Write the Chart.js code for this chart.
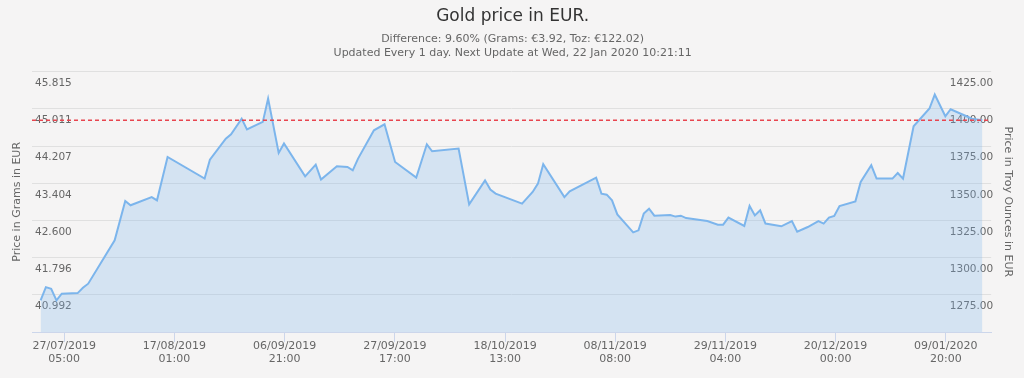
<!DOCTYPE html>
<html>
<head>
<meta charset="utf-8">
<script src="https://cdn.jsdelivr.net/npm/chart.js@4.4.0/dist/chart.umd.min.js"></script>
<style>
  html, body { margin: 0; padding: 0; background: #f5f4f4; }
  #wrap { width: 1024px; height: 378px; position: relative; }
</style>
</head>
<body>
<div id="wrap"><canvas id="goldChart"></canvas></div>
<script>
/* Closing dates (each at 18:00 UTC) and gold price per troy ounce in EUR */
const dates = [
  "2019-07-22", "2019-07-23", "2019-07-24", "2019-07-25", "2019-07-26", "2019-07-29", "2019-07-30", "2019-07-31",
  "2019-08-05", "2019-08-07", "2019-08-08", "2019-08-12", "2019-08-13", "2019-08-15", "2019-08-22", "2019-08-23",
  "2019-08-26", "2019-08-27", "2019-08-29", "2019-08-30",
  "2019-09-02", "2019-09-03", "2019-09-05", "2019-09-06", "2019-09-10", "2019-09-12", "2019-09-13", "2019-09-16",
  "2019-09-18", "2019-09-19", "2019-09-20", "2019-09-23", "2019-09-25", "2019-09-27",
  "2019-10-01", "2019-10-03", "2019-10-04", "2019-10-09", "2019-10-11", "2019-10-14", "2019-10-15", "2019-10-16",
  "2019-10-21", "2019-10-23", "2019-10-24", "2019-10-25", "2019-10-29", "2019-10-30",
  "2019-11-04", "2019-11-05", "2019-11-06", "2019-11-07", "2019-11-08", "2019-11-11", "2019-11-12", "2019-11-13",
  "2019-11-14", "2019-11-15", "2019-11-18", "2019-11-19", "2019-11-20", "2019-11-21", "2019-11-25", "2019-11-27",
  "2019-11-28", "2019-11-29",
  "2019-12-02", "2019-12-03", "2019-12-04", "2019-12-05", "2019-12-06", "2019-12-09", "2019-12-11", "2019-12-12",
  "2019-12-14", "2019-12-16", "2019-12-17", "2019-12-18", "2019-12-19", "2019-12-20", "2019-12-23", "2019-12-24",
  "2019-12-26", "2019-12-27", "2019-12-30", "2019-12-31",
  "2020-01-01", "2020-01-03", "2020-01-06", "2020-01-07", "2020-01-09", "2020-01-10", "2020-01-13", "2020-01-14",
  "2020-01-16"
];
const priceToz = [
  1279.2, 1288.1, 1287.0, 1279.2, 1283.7, 1284.1, 1287.7, 1290.4,
  1319.5, 1345.8, 1343.0, 1348.5, 1346.3, 1375.4, 1360.9, 1373.6,
  1387.7, 1390.6, 1401.1, 1393.8,
  1398.9, 1414.6, 1378.1, 1384.4, 1362.4, 1370.3, 1360.2, 1369.1,
  1368.7, 1366.4, 1374.3, 1393.3, 1397.3, 1372.0,
  1361.5, 1383.9, 1379.2, 1381.0, 1343.6, 1359.7, 1353.5, 1350.8,
  1344.1, 1351.9, 1357.5, 1370.5, 1348.5, 1352.3,
  1361.5, 1350.8, 1350.1, 1346.3, 1336.9, 1324.8, 1326.2, 1337.4,
  1340.7, 1336.0, 1336.4, 1335.4, 1336.0, 1334.4, 1332.4, 1330.0,
  1330.0, 1334.7,
  1329.1, 1342.5, 1336.2, 1339.6, 1330.7, 1328.9, 1332.4, 1325.3,
  1328.4, 1332.4, 1330.7, 1334.7, 1335.8, 1342.5, 1345.6, 1358.6,
  1369.8, 1360.9, 1360.9, 1364.6,
  1360.9, 1396.0, 1407.9, 1417.2, 1402.7, 1407.4, 1402.7, 1401.1,
  1400.0
];
const refPrice = 1400;
const gramsPerToz = 31.1034768;
const tozTicks = [1275, 1300, 1325, 1350, 1375, 1400, 1425];
const xTickDates = [
  "2019-07-27T05:00", "2019-08-17T01:00", "2019-09-06T21:00", "2019-09-27T17:00", "2019-10-18T13:00",
  "2019-11-08T08:00", "2019-11-29T04:00", "2019-12-20T00:00", "2020-01-09T20:00"
];
const xTickLabels = [
  ["27/07/2019", "05:00"], ["17/08/2019", "01:00"], ["06/09/2019", "21:00"], ["27/09/2019", "17:00"],
  ["18/10/2019", "13:00"], ["08/11/2019", "08:00"], ["29/11/2019", "04:00"], ["20/12/2019", "00:00"],
  ["09/01/2020", "20:00"]
];

const toTime = (s) => Date.parse(s + ":00Z");
const xTickTimes = xTickDates.map(toTime);
const points = dates.map((d, i) => ({ x: toTime(d + "T18:00"), y: priceToz[i] }));

const xMin = toTime("2019-07-21T03:00");
const xMax = toTime("2020-01-18T10:00");
const yMin = 1258.0;
const yMax = 1432.6;

Chart.defaults.font.family = "'DejaVu Sans', sans-serif";
Chart.defaults.color = "#666666";

const ctx = document.getElementById("goldChart").getContext("2d");
const goldChart = new Chart(ctx, {
  type: "line",
  data: {
    datasets: [
      {
        label: "Reference",
        data: [{ x: xMin, y: refPrice }, { x: xMax, y: refPrice }],
        yAxisID: "y",
        borderColor: "#e8454f",
        borderWidth: 1.5,
        borderDash: [4, 3],
        pointRadius: 0,
        fill: false,
      },
      {
        label: "Gold price",
        data: points,
        yAxisID: "y",
        borderColor: "#7cb5ec",
        backgroundColor: "rgba(124, 181, 236, 0.27)",
        borderWidth: 2,
        pointRadius: 0,
        tension: 0,
        fill: "start",
      },
    ],
  },
  options: {
    responsive: true,
    maintainAspectRatio: false,
    animation: false,
    layout: { padding: { left: 7, right: 5.8, top: 0, bottom: 14.5 } },
    plugins: {
      legend: { display: false },
      tooltip: { enabled: false },
      title: {
        display: true,
        text: "Gold price in EUR.",
        color: "#333333",
        font: { size: 17, weight: "normal" },
        padding: { top: 6, bottom: 0 },
      },
      subtitle: {
        display: true,
        text: [
          "Difference: 9.60% (Grams: €3.92, Toz: €122.02)",
          "Updated Every 1 day. Next Update at Wed, 22 Jan 2020 10:21:11",
        ],
        color: "#666666",
        font: { size: 11, lineHeight: 1.33 },
        padding: { top: 5, bottom: 11 },
      },
    },
    scales: {
      x: {
        type: "linear",
        min: xMin,
        max: xMax,
        afterBuildTicks: (axis) => {
          axis.ticks = xTickTimes.map((v) => ({ value: v }));
        },
        ticks: {
          autoSkip: false,
          maxRotation: 0,
          padding: -3,
          color: "#666666",
          font: { size: 11, lineHeight: 1.25 },
          callback: (value) => xTickLabels[xTickTimes.indexOf(value)],
        },
        grid: { drawOnChartArea: false, drawTicks: true, tickLength: 10, color: "#ccd6eb" },
        border: { display: true, color: "#ccd6eb" },
      },
      y: {
        position: "right",
        min: yMin,
        max: yMax,
        z: 1,
        afterBuildTicks: (axis) => {
          axis.ticks = tozTicks.map((v) => ({ value: v }));
        },
        ticks: {
          mirror: true,
          padding: 2,
          color: "#666666",
          font: { size: 10.5 },
          callback: (value) => value.toFixed(2),
        },
        grid: { display: false, drawTicks: false },
        border: { display: false },
        title: {
          display: true,
          text: "Price in Troy Ounces in EUR",
          color: "#666666",
          font: { size: 11 },
          padding: { top: 4, bottom: 5.8 },
        },
      },
      yGrams: {
        position: "left",
        min: yMin / gramsPerToz,
        max: yMax / gramsPerToz,
        z: 1,
        afterBuildTicks: (axis) => {
          axis.ticks = tozTicks.map((v) => ({ value: v / gramsPerToz }));
        },
        ticks: {
          mirror: true,
          padding: 3,
          color: "#666666",
          font: { size: 10.5 },
          callback: (value) => value.toFixed(3),
        },
        grid: { display: false, drawTicks: false },
        border: { display: false },
        title: {
          display: true,
          text: "Price in Grams in EUR",
          color: "#666666",
          font: { size: 11 },
          padding: { top: 4, bottom: 1.8 },
        },
      },
      yGrid: {
        position: "left",
        min: 0,
        max: 7,
        ticks: { display: false, stepSize: 1 },
        grid: { color: "#e0e0e0", drawTicks: false },
        border: { display: false },
      },
    },
  },
});
</script>
</body>
</html>
